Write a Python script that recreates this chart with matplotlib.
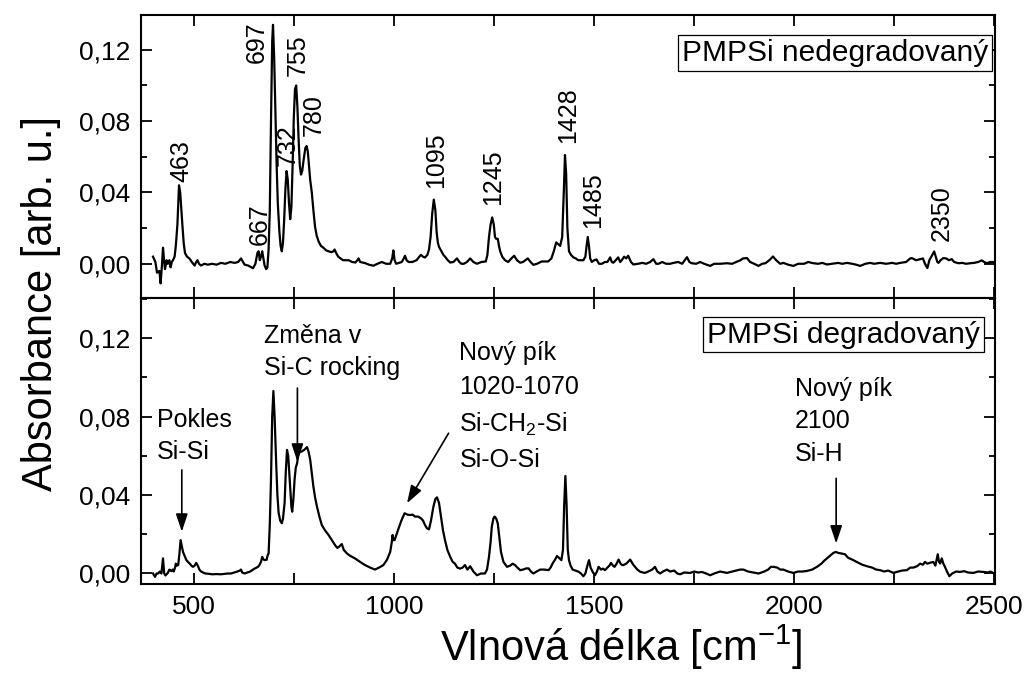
import matplotlib
matplotlib.use("Agg")
import matplotlib.pyplot as plt
from matplotlib.ticker import MultipleLocator, FuncFormatter

plt.rcParams['font.family'] = ['Liberation Sans', 'DejaVu Sans']
plt.rcParams['mathtext.default'] = 'regular'

# --- data ---
# PMPSi nedegradovany (top panel)
top_wn = [397, 403, 407, 413, 416, 419, 422, 425, 427, 431, 434, 438, 441, 444, 447, 451, 454, 458,
          462, 465, 468, 471, 474, 477, 482, 488, 494, 501, 505, 508, 512, 517, 525, 534, 545, 556,
          567, 578, 590, 601, 610, 617, 622, 626, 635, 647, 653, 658, 661, 664, 667, 670, 673, 676,
          680, 683, 686, 689, 692, 695, 697, 700, 703, 706, 709, 713, 716, 719, 722, 725, 728, 731,
          734, 737, 740, 743, 746, 749, 752, 755, 758, 761, 764, 767, 770, 774, 778, 781, 784, 787,
          790, 794, 798, 802, 806, 811, 817, 823, 830, 836, 843, 848, 851, 855, 860, 866, 872, 880,
          886, 895, 903, 908, 911, 915, 927, 937, 948, 958, 969, 980, 990, 995, 998, 1001, 1005,
          1012, 1019, 1024, 1027, 1031, 1036, 1045, 1056, 1063, 1067, 1072, 1077, 1083, 1087, 1091,
          1095, 1099, 1103, 1106, 1109, 1112, 1118, 1123, 1127, 1134, 1140, 1148, 1157, 1163, 1168,
          1174, 1182, 1190, 1198, 1207, 1218, 1229, 1233, 1237, 1241, 1245, 1249, 1252, 1255, 1259,
          1262, 1265, 1270, 1277, 1285, 1293, 1300, 1307, 1315, 1322, 1328, 1334, 1341, 1348, 1357,
          1369, 1385, 1393, 1399, 1405, 1410, 1415, 1420, 1424, 1427, 1430, 1433, 1437, 1442, 1448,
          1454, 1460, 1466, 1473, 1478, 1481, 1484, 1487, 1490, 1494, 1500, 1506, 1512, 1519, 1527,
          1533, 1540, 1544, 1548, 1554, 1560, 1565, 1569, 1575, 1580, 1585, 1592, 1598, 1610, 1620,
          1630, 1640, 1648, 1655, 1661, 1670, 1680, 1690, 1698, 1710, 1720, 1732, 1738, 1744, 1755,
          1765, 1775, 1790, 1800, 1815, 1832, 1845, 1855, 1865, 1872, 1882, 1890, 1900, 1911, 1920,
          1928, 1938, 1947, 1955, 1965, 1973, 1985, 1998, 2010, 2025, 2035, 2048, 2060, 2070, 2082,
          2095, 2110, 2120, 2132, 2145, 2155, 2165, 2178, 2190, 2200, 2215, 2230, 2245, 2255, 2265,
          2280, 2290, 2294, 2305, 2315, 2322, 2327, 2333, 2338, 2343, 2350, 2354, 2358, 2361, 2366,
          2373, 2380, 2387, 2394, 2400, 2411, 2420, 2430, 2440, 2450, 2460, 2469, 2475, 2482, 2490,
          2500]
top_abs = [0.004, 0.001, -0.005, -0.004, -0.011, -0.002, 0.009, 0.001, -0.003, 0.002, 0.000, 0.002,
           -0.002, 0.001, 0.002, 0.004, 0.010, 0.022, 0.044, 0.040, 0.030, 0.020, 0.011, 0.006, 0.004,
           0.003, 0.001, -0.001, 0.001, 0.002, 0.000, -0.001, 0.000, -0.0005, 0.000, -0.0005, 0.0005,
           0.000, 0.001, 0.0005, 0.001, 0.003, 0.001, -0.0005, -0.001, -0.0025, 0.000, 0.006, 0.007,
           0.002, 0.004, 0.007, 0.003, -0.001, -0.003, -0.002, 0.008, 0.030, 0.080, 0.125, 0.134,
           0.115, 0.085, 0.056, 0.034, 0.018, 0.010, 0.007, 0.012, 0.025, 0.042, 0.052, 0.047, 0.034,
           0.025, 0.032, 0.055, 0.082, 0.098, 0.100, 0.088, 0.070, 0.055, 0.050, 0.052, 0.059, 0.065,
           0.066, 0.063, 0.055, 0.047, 0.040, 0.030, 0.021, 0.016, 0.0125, 0.010, 0.009, 0.0075, 0.007,
           0.0065, 0.007, 0.008, 0.006, 0.004, 0.003, 0.002, 0.002, 0.002, 0.001, 0.0007, 0.002, 0.003,
           0.001, 0.0004, -0.0005, -0.0011, 0.000, 0.001, 0.000, 0.000, 0.003, 0.0075, 0.002, 0.000,
           0.0005, 0.001, 0.003, 0.0045, 0.002, 0.001, 0.001, 0.002, 0.004, 0.005, 0.004, 0.0035,
           0.005, 0.008, 0.015, 0.028, 0.036, 0.030, 0.018, 0.012, 0.0095, 0.007, 0.005, 0.004, 0.002,
           0.0007, 0.001, 0.003, 0.001, 0.000, 0.000, 0.001, 0.003, 0.001, 0.000, 0.001, 0.0013, 0.005,
           0.015, 0.022, 0.026, 0.022, 0.015, 0.014, 0.014, 0.010, 0.007, 0.004, 0.002, 0.001, 0.003,
           0.0045, 0.002, 0.0006, 0.001, 0.002, 0.003, 0.001, -0.0006, 0.000, 0.0013, 0.0013, 0.003,
           0.007, 0.012, 0.011, 0.010, 0.015, 0.040, 0.061, 0.050, 0.020, 0.007, 0.005, 0.0036, 0.003,
           0.002, 0.002, 0.002, 0.004, 0.010, 0.015, 0.010, 0.003, 0.001, 0.002, 0.0024, 0.000, 0.000,
           0.001, 0.001, 0.0036, 0.001, 0.0006, 0.002, 0.0036, 0.001, 0.002, 0.004, 0.003, 0.0045,
           0.001, -0.0004, 0.000, 0.0005, 0.000, 0.001, 0.0026, 0.000, 0.000, 0.001, 0.000, 0.000,
           0.0005, 0.001, 0.000, 0.0037, 0.001, 0.0003, 0.000, 0.001, 0.000, -0.0012, 0.000, 0.000,
           0.0003, 0.000, 0.001, 0.0019, 0.003, 0.0032, 0.001, 0.000, -0.0012, 0.000, 0.0003, 0.002,
           0.0041, 0.002, 0.000, 0.0005, -0.0005, -0.0012, 0.000, 0.000, 0.001, 0.0003, 0.000, 0.0005,
           -0.0004, 0.000, 0.0005, 0.000, 0.0005, 0.000, -0.0005, -0.0012, 0.000, 0.0005, 0.000,
           0.0005, 0.000, 0.0005, 0.000, 0.0005, 0.001, 0.003, 0.0032, 0.002, 0.0026, 0.003, 0.000,
           -0.0024, 0.002, 0.004, 0.0069, 0.004, 0.001, 0.0005, 0.002, 0.0032, 0.003, 0.002, 0.0026,
           0.001, 0.0003, 0.0005, 0.000, 0.0003, 0.0005, 0.001, 0.0019, 0.001, 0.0003, 0.001, 0.001]

# PMPSi degradovany (bottom panel)
bot_wn = [397, 402, 406, 410, 414, 418, 422, 425, 428, 434, 438, 443, 446, 449, 452, 454, 457, 460,
          463, 466, 469, 472, 476, 480, 484, 489, 493, 497, 501, 505, 509, 513, 516, 522, 528, 534,
          545, 556, 567, 575, 584, 592, 600, 608, 614, 617, 620, 626, 633, 640, 647, 651, 656, 660,
          663, 667, 670, 674, 677, 681, 684, 686, 689, 692, 695, 698, 701, 705, 708, 711, 715, 719,
          722, 726, 729, 732, 735, 738, 740, 743, 745, 748, 751, 754, 757, 761, 765, 769, 775, 782,
          786, 790, 794, 798, 802, 807, 813, 819, 827, 836, 844, 852, 858, 864, 869, 874, 882, 890,
          902, 914, 927, 940, 952, 962, 973, 982, 990, 994, 996, 998, 1001, 1006, 1011, 1018, 1026,
          1033, 1040, 1046, 1052, 1060, 1067, 1072, 1077, 1082, 1087, 1092, 1098, 1103, 1107, 1112,
          1117, 1122, 1127, 1133, 1140, 1146, 1152, 1158, 1165, 1171, 1177, 1183, 1190, 1198, 1207,
          1217, 1227, 1232, 1237, 1241, 1244, 1248, 1251, 1255, 1259, 1263, 1267, 1273, 1282, 1290,
          1296, 1302, 1308, 1315, 1322, 1330, 1336, 1342, 1348, 1356, 1365, 1375, 1386, 1391, 1396,
          1402, 1407, 1412, 1418, 1422, 1425, 1428, 1431, 1434, 1437, 1441, 1446, 1453, 1461, 1467,
          1473, 1478, 1483, 1487, 1491, 1496, 1502, 1507, 1511, 1517, 1522, 1527, 1533, 1538, 1542,
          1547, 1551, 1556, 1561, 1566, 1570, 1573, 1580, 1585, 1590, 1596, 1602, 1608, 1615, 1622,
          1627, 1635, 1645, 1652, 1658, 1665, 1672, 1682, 1690, 1700, 1708, 1715, 1725, 1740, 1750,
          1760, 1769, 1780, 1790, 1800, 1815, 1832, 1845, 1855, 1865, 1873, 1885, 1898, 1911, 1925,
          1935, 1942, 1948, 1958, 1965, 1973, 1985, 1998, 2010, 2020, 2032, 2045, 2057, 2068, 2075,
          2082, 2090, 2098, 2104, 2110, 2118, 2127, 2135, 2148, 2160, 2170, 2182, 2195, 2205, 2215,
          2225, 2235, 2248, 2260, 2270, 2282, 2290, 2298, 2307, 2315, 2322, 2327, 2333, 2340, 2348,
          2353, 2359, 2362, 2365, 2369, 2373, 2377, 2382, 2388, 2395, 2405, 2415, 2425, 2435, 2448,
          2460, 2473, 2485, 2490, 2498]
bot_abs = [0.000, -0.0017, 0.000, 0.000, 0.001, 0.000, 0.0077, 0.000, -0.001, 0.0003, 0.002, 0.0012,
           0.002, 0.001, 0.003, 0.005, 0.004, 0.0043, 0.010, 0.017, 0.014, 0.011, 0.009, 0.007, 0.006,
           0.005, 0.004, 0.0034, 0.004, 0.0054, 0.004, 0.002, 0.0012, 0.0005, 0.000, -0.0001, -0.0004,
           -0.0003, -0.0004, -0.0002, 0.000, 0.000, 0.0005, 0.001, 0.0015, 0.002, 0.0005, 0.000,
           0.0005, 0.001, 0.002, 0.0025, 0.003, 0.0035, 0.0043, 0.006, 0.0085, 0.007, 0.0068, 0.007,
           0.0095, 0.0102, 0.025, 0.048, 0.080, 0.093, 0.080, 0.056, 0.040, 0.031, 0.027, 0.0256,
           0.028, 0.036, 0.052, 0.063, 0.060, 0.050, 0.043, 0.034, 0.0315, 0.038, 0.048, 0.054, 0.056,
           0.0613, 0.062, 0.0622, 0.063, 0.0644, 0.062, 0.058, 0.051, 0.0443, 0.039, 0.034, 0.029,
           0.0247, 0.022, 0.0196, 0.017, 0.0145, 0.013, 0.014, 0.015, 0.012, 0.0102, 0.009, 0.0077,
           0.006, 0.0043, 0.003, 0.002, 0.003, 0.0043, 0.007, 0.011, 0.016, 0.0196, 0.017, 0.017,
           0.020, 0.023, 0.027, 0.0307, 0.030, 0.0298, 0.030, 0.029, 0.029, 0.0281, 0.027, 0.0247,
           0.023, 0.0225, 0.027, 0.034, 0.038, 0.0388, 0.036, 0.029, 0.022, 0.017, 0.012, 0.0085,
           0.006, 0.005, 0.003, 0.0025, 0.003, 0.0043, 0.002, 0.0037, 0.001, -0.0009, 0.000, 0.000,
           0.002, 0.0085, 0.016, 0.0238, 0.028, 0.029, 0.028, 0.0255, 0.018, 0.011, 0.006, 0.0034,
           0.004, 0.005, 0.0043, 0.003, 0.0017, 0.002, 0.0026, 0.0026, 0.001, 0.000, 0.001, 0.002,
           0.002, 0.0017, 0.003, 0.0051, 0.007, 0.0089, 0.008, 0.0068, 0.012, 0.035, 0.0497, 0.035,
           0.012, 0.0068, 0.004, 0.002, 0.0015, 0.0009, 0.000, -0.0014, 0.000, 0.004, 0.0068, 0.003,
           0.0009, -0.0009, 0.001, 0.0034, 0.002, 0.0025, 0.0017, 0.003, 0.004, 0.0054, 0.004, 0.0034,
           0.005, 0.0071, 0.005, 0.0043, 0.0043, 0.005, 0.006, 0.0071, 0.005, 0.0034, 0.002, 0.0009,
           0.0005, 0.0003, 0.001, 0.002, 0.0034, 0.001, 0.000, 0.001, 0.002, 0.001, 0.0015, 0.000,
           -0.0004, 0.0005, 0.0003, 0.001, 0.0005, 0.0008, 0.000, -0.0009, 0.000, 0.001, 0.0003, 0.001,
           0.0015, 0.002, 0.002, 0.001, 0.0005, 0.000, 0.001, 0.002, 0.0034, 0.0034, 0.003, 0.002,
           0.002, 0.001, 0.0003, 0.001, 0.001, 0.0013, 0.002, 0.0034, 0.005, 0.0065, 0.0077, 0.009,
           0.0105, 0.011, 0.0105, 0.0102, 0.0098, 0.008, 0.0068, 0.0055, 0.0045, 0.0037, 0.003, 0.002,
           0.0017, 0.001, 0.0015, 0.0003, 0.001, 0.0015, 0.0017, 0.003, 0.003, 0.0037, 0.005, 0.0045,
           0.0059, 0.005, 0.0055, 0.0059, 0.004, 0.0098, 0.006, 0.0051, 0.0077, 0.005, 0.0034, 0.001,
           -0.0014, 0.000, 0.001, 0.0008, 0.0012, 0.0005, 0.0003, 0.001, 0.0008, 0.0005, 0.001, 0.0003]

# peak labels in the top panel: text, x of label, bottom of label
peak_labels = ['463', '667', '697', '732', '755', '780', '1095', '1245', '1428', '1485', '2350']
peak_label_x = [469, 663, 657, 734, 759, 800, 1104, 1247, 1436, 1498, 2369]
peak_label_y = [0.0456, 0.0107, 0.1126, 0.0546, 0.1055, 0.0714, 0.0425, 0.0331, 0.0677, 0.020, 0.0125]

# annotations in the bottom panel
note_texts = ['Pokles\nSi-Si', 'Změna v\nSi-C rocking',
              'Nový pík\n1020-1070\nSi-CH$_2$-Si\nSi-O-Si', 'Nový pík\n2100\nSi-H']
note_x = [407, 675, 1163, 2002]
note_y = [0.0844, 0.1274, 0.1186, 0.1004]
note_spacing = [1.45, 1.45, 1.55, 1.45]
arrow_from = [(469, 0.0528), (758, 0.0945), (1136, 0.0715), (2105, 0.0485)]
arrow_to = [(469, 0.0213), (758, 0.057), (1032, 0.0358), (2105, 0.0153)]


def comma_fmt(v, pos):
    return f"{v:.2f}".replace('.', ',').replace('-0,00', '0,00')


def style_axis(ax):
    ax.set_xlim(367, 2502)
    ax.xaxis.set_major_locator(MultipleLocator(500))
    ax.xaxis.set_minor_locator(MultipleLocator(250))
    ax.yaxis.set_major_locator(MultipleLocator(0.04))
    ax.yaxis.set_minor_locator(MultipleLocator(0.02))
    ax.yaxis.set_major_formatter(FuncFormatter(comma_fmt))
    ax.tick_params(which='both', direction='in', top=True, right=True, width=1.3, labelsize=19)
    ax.tick_params(which='major', length=8, pad=8)
    ax.tick_params(axis='y', which='minor', length=4.5)
    ax.tick_params(axis='x', which='minor', length=8)
    for s in ax.spines.values():
        s.set_linewidth(1.5)


fig = plt.figure(figsize=(10.27, 6.77), dpi=100)
ax1 = fig.add_axes([0.1373, 0.5598, 0.8315, 0.4180])
ax2 = fig.add_axes([0.1373, 0.1381, 0.8315, 0.4217])

ax1.plot(top_wn, top_abs, color='black', lw=1.6)
ax2.plot(bot_wn, bot_abs, color='black', lw=1.6)

style_axis(ax1)
style_axis(ax2)
ax1.set_ylim(-0.0192, 0.1395)
ax2.set_ylim(-0.0051, 0.1404)
ax1.tick_params(labelbottom=False)

# cisla piku
for lab, px, py in zip(peak_labels, peak_label_x, peak_label_y):
    ax1.text(px, py, lab, rotation=90, ha='center', va='bottom', fontsize=18)

# popisky se sipkami
for txt, tx, ty, ls in zip(note_texts, note_x, note_y, note_spacing):
    ax2.text(tx, ty, txt, ha='left', va='top', fontsize=18, linespacing=ls)
for (x0, y0), (x1, y1) in zip(arrow_from, arrow_to):
    ax2.annotate('', xy=(x1, y1), xytext=(x0, y0),
                 arrowprops=dict(arrowstyle='-|>,head_length=0.6,head_width=0.2',
                                 color='black', lw=1.2, mutation_scale=18,
                                 shrinkA=0, shrinkB=0))

box = dict(boxstyle='square,pad=0.12', facecolor='white', edgecolor='black', lw=0.9)
ax1.text(0.9918, 0.866, 'PMPSi nedegradovaný', transform=ax1.transAxes,
         ha='right', va='center', fontsize=21.5, bbox=box)
ax2.text(0.9824, 0.872, 'PMPSi degradovaný', transform=ax2.transAxes,
         ha='right', va='center', fontsize=21.5, bbox=box)

fig.text(0.040, 0.551, 'Absorbance [arb. u.]', rotation=90, ha='center', va='center', fontsize=30)
fig.text(0.605, 0.008, 'Vlnová délka [cm$^{-1}$]', ha='center', va='bottom', fontsize=30)

plt.savefig("out.png", dpi=100)
